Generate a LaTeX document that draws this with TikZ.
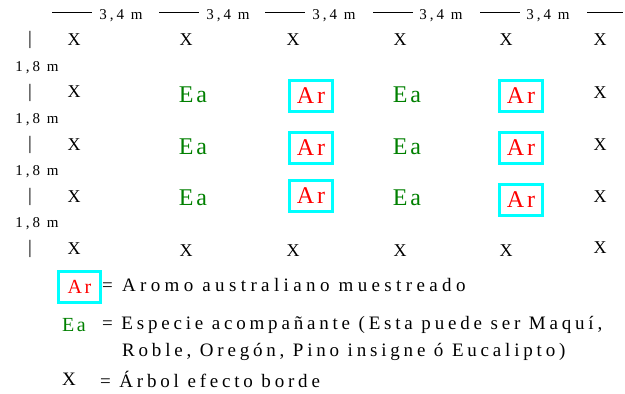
\documentclass[tikz,border=0pt]{standalone}
\usepackage{fontspec}
\setmainfont{Liberation Serif}
\newfontfamily\spacedfont[LetterSpace=12]{Liberation Serif}
\newfontfamily\distfont[LetterSpace=20]{Liberation Serif}
\newfontfamily\legendfont[LetterSpace=20]{Liberation Serif}
\newfontfamily\legendwidefont[LetterSpace=23]{Liberation Serif}
\definecolor{eagreen}{RGB}{0, 128, 0}
\definecolor{arred}{RGB}{255, 0, 0}
\definecolor{arcyan}{RGB}{0, 255, 255}
\usetikzlibrary{positioning}

\begin{document}
\begin{tikzpicture}[
  x=1pt, y=-1pt,
  tree/.style={inner sep=0pt, font=\fontsize{18}{20}\selectfont},
  ea/.style={inner sep=0pt, text=eagreen, font=\spacedfont\fontsize{24}{26}\selectfont},
  ar/.style={draw=arcyan, line width=2.6pt, text=arred, inner sep=0pt,
    minimum width=43pt, minimum height=31pt, font=\spacedfont\fontsize{24}{26}\selectfont},
  dist/.style={inner sep=0pt, font=\distfont\fontsize{15}{17}\selectfont},
  bar/.style={inner sep=0pt, font=\fontsize{19}{21}\selectfont},
  legend/.style={anchor=west, inner sep=0pt, font=\legendfont\fontsize{19}{22}\selectfont}
]
  \useasboundingbox (0,0) rectangle (625,394);

  % distances between columns
  \coordinate (t1) at (52,12);
  \coordinate (t2) at (159,12);
  \coordinate (t3) at (265,12);
  \coordinate (t4) at (373,12);
  \coordinate (t5) at (480,12);
  \coordinate (t6) at (587,12);
  \draw (t1) -- ++(40,0);
  \draw (t2) -- ++(40,0);
  \draw (t3) -- ++(40,0);
  \draw (t4) -- ++(40,0);
  \draw (t5) -- ++(40,0);
  \draw (t6) -- ++(36,0);
  \node[dist] (d1) at (121,16) {3,4 m};
  \node[dist] (d2) at (228,16) {3,4 m};
  \node[dist] (d3) at (334,16) {3,4 m};
  \node[dist] (d4) at (441,16) {3,4 m};
  \node[dist] (d5) at (548,16) {3,4 m};

  % distances between rows
  \node[bar] (b1) at (30,40) {|};
  \node[bar] (b2) at (30,93) {|};
  \node[bar] (b3) at (30,145) {|};
  \node[bar] (b4) at (30,197) {|};
  \node[bar] (b5) at (30,249) {|};
  \node[dist] (h1) at (37,68) {1,8 m};
  \node[dist] (h2) at (37,120) {1,8 m};
  \node[dist] (h3) at (37,172) {1,8 m};
  \node[dist] (h4) at (37,224) {1,8 m};

  % row 1
  \node[tree] (x11) at (74,40) {X};
  \node[tree] (x12) at (186,40) {X};
  \node[tree] (x13) at (293,40) {X};
  \node[tree] (x14) at (400,40) {X};
  \node[tree] (x15) at (506,40) {X};
  \node[tree] (x16) at (600,40) {X};
  % row 2
  \node[tree] (x21) at (74,92) {X};
  \node[ea] (ea21) at (193,95) {Ea};
  \node[ar] (ar21) at (311,96) {Ar};
  \node[ea] (ea22) at (407,95) {Ea};
  \node[ar] (ar22) at (521,96) {Ar};
  \node[tree] (x26) at (600,93) {X};
  % row 3
  \node[tree] (x31) at (74,145) {X};
  \node[ea] (ea31) at (193,147) {Ea};
  \node[ar] (ar31) at (311,148) {Ar};
  \node[ea] (ea32) at (407,147) {Ea};
  \node[ar] (ar32) at (521,148) {Ar};
  \node[tree] (x36) at (600,145) {X};
  % row 4
  \node[tree] (x41) at (74,197) {X};
  \node[ea] (ea41) at (193,198) {Ea};
  \node[ar] (ar41) at (311,196) {Ar};
  \node[ea] (ea42) at (407,198) {Ea};
  \node[ar] (ar42) at (521,200) {Ar};
  \node[tree] (x46) at (600,197) {X};
  % row 5
  \node[tree] (x51) at (74,249) {X};
  \node[tree] (x52) at (186,251) {X};
  \node[tree] (x53) at (293,251) {X};
  \node[tree] (x54) at (400,251) {X};
  \node[tree] (x55) at (506,251) {X};
  \node[tree] (x56) at (600,248) {X};

  % legend
  \node[ar, minimum width=42pt, minimum height=31pt, font=\spacedfont\fontsize{20}{22}\selectfont] (lar) at (79.5,287) {Ar};
  \node[legend, font=\legendwidefont\fontsize{19}{22}\selectfont] (lartxt) at (102,285) {= Aromo australiano muestreado};
  \node[ea, anchor=west, font=\spacedfont\fontsize{20}{22}\selectfont] (lea) at (62,325) {Ea};
  \node[legend] (leatxt) at (102,325) {= Especie acompañante (Esta puede ser Maquí,};
  \node[legend] (leatxt2) at (122,352) {Roble, Oregón, Pino insigne ó Eucalipto)};
  \node[tree, anchor=west, font=\fontsize{19}{21}\selectfont] (lx) at (62,379) {X};
  \node[legend] (lxtxt) at (100,379) {= Árbol efecto borde};
\end{tikzpicture}
\end{document}
